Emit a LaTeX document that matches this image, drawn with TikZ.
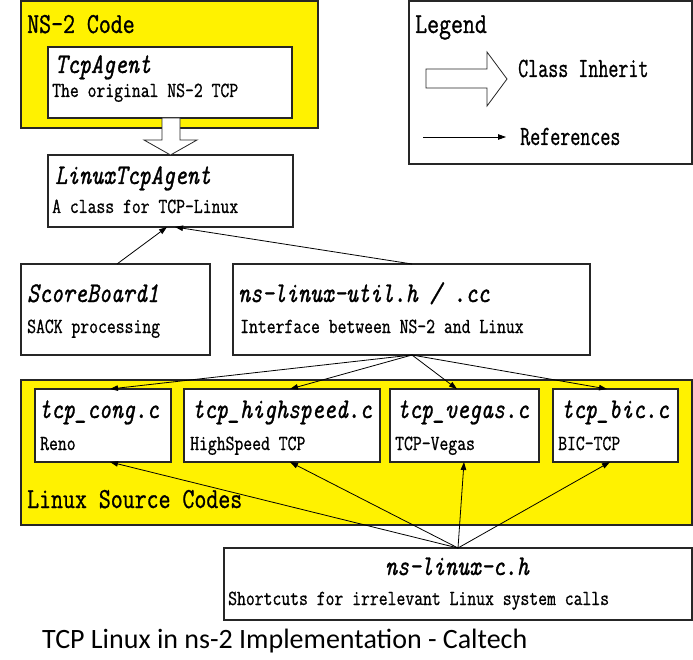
\documentclass[tikz,border=0pt]{standalone}
\usepackage{fontspec}
\setmainfont{Latin Modern Mono}[FakeStretch=0.8, FakeBold=0.9]
\newfontfamily\legfont{Latin Modern Mono}[FakeStretch=0.7, FakeBold=0.9]
\newfontfamily\capfont{Carlito}
\usetikzlibrary{arrows.meta}
\begin{document}
\begin{tikzpicture}[x=1pt,y=-1pt,
  box/.style={draw=black!85, line width=1.1pt, fill=white, anchor=north west, inner sep=0pt, outer sep=0pt},
  ybox/.style={box, fill=yellow},
  ttl/.style={anchor=base west, inner sep=0pt, font=\fontsize{28.5}{28.5}\selectfont\itshape},
  sub/.style={anchor=base west, inner sep=0pt, font=\fontsize{21.5}{21.5}\selectfont},
  big/.style={anchor=base west, inner sep=0pt, font=\fontsize{29}{29}\selectfont},
  leg/.style={anchor=base west, inner sep=0pt, font=\legfont\fontsize{27.8}{27.8}\selectfont},
  ref/.style={-{Triangle[length=8pt,width=5.5pt]}, line width=0.8pt, draw=black},
  hollow/.style={draw=black!85, line width=0.8pt, fill=white}
]
\useasboundingbox (0,0) rectangle (693,660);

% NS-2 code group
\node[ybox, minimum width=297pt, minimum height=127pt] (ns2) at (21,1) {};
\node[big] (ns2lbl) at (27,33) {NS-2 Code};
\node[box, minimum width=244pt, minimum height=71pt] (tcpagent) at (48,47) {};
\node[ttl] (tcpagentT) at (55,73) {TcpAgent};
\node[sub] (tcpagentS) at (52,97) {The original NS-2 TCP};

\node[box, minimum width=245pt, minimum height=72pt] (linux) at (48,155) {};
\node[ttl] (linuxT) at (55,184) {LinuxTcpAgent};
\node[sub] (linuxS) at (52,213) {A class for TCP-Linux};

% inheritance arrow
\draw[hollow] (162,118) -- (162,140) -- (144,140) -- (170.5,155) -- (197,140) -- (180,140) -- (180,118) -- cycle;

% legend
\node[box, minimum width=283pt, minimum height=163pt] (legend) at (409,1) {};
\node[big] (legendT) at (415,33) {Legend};
\draw[hollow] (426,69) -- (487,69) -- (487,52) -- (507,79) -- (487,106) -- (487,88) -- (426,88) -- cycle;
\node[leg] (legInh) at (518,77) {Class Inherit};
\node[leg] (legRef) at (520,145) {References};
\coordinate (refA) at (423,137);
\coordinate (refB) at (506,137);
\draw[ref] (refA) -- (refB);

% middle row
\node[box, minimum width=189pt, minimum height=91pt] (sb) at (21,264) {};
\node[ttl] (sbT) at (27,302) {ScoreBoard1};
\node[sub] (sbS) at (27,333) {SACK processing};

\node[box, minimum width=357pt, minimum height=91pt] (util) at (233,264) {};
\node[ttl] (utilT) at (238,302) {ns-linux-util.h / .cc};
\node[sub] (utilS) at (240,333) {Interface between NS-2 and Linux};

% Linux source codes group
\node[ybox, minimum width=671pt, minimum height=145pt] (lsrc) at (21,380) {};
\node[big] (lsrcT) at (27,508) {Linux Source Codes};

\node[box, minimum width=136pt, minimum height=73pt] (cong) at (35,389) {};
\node[ttl] (congT) at (39,418) {tcp\_cong.c};
\node[sub] (congS) at (40,450) {Reno};

\node[box, minimum width=196pt, minimum height=73pt] (hs) at (184,389) {};
\node[ttl] (hsT) at (192,418) {tcp\_highspeed.c};
\node[sub] (hsS) at (190,450) {HighSpeed TCP};

\node[box, minimum width=149pt, minimum height=73pt] (vegas) at (390,389) {};
\node[ttl] (vegasT) at (397,418) {tcp\_vegas.c};
\node[sub] (vegasS) at (395,450) {TCP-Vegas};

\node[box, minimum width=125pt, minimum height=73pt] (bic) at (553,389) {};
\node[ttl] (bicT) at (561,418) {tcp\_bic.c};
\node[sub] (bicS) at (558,450) {BIC-TCP};

% bottom box
\node[box, minimum width=468pt, minimum height=72pt] (nsc) at (224,548) {};
\node[ttl, anchor=base] (nscT) at (457,575) {ns-linux-c.h};
\node[sub] (nscS) at (228,605) {Shortcuts for irrelevant Linux system calls};

% caption
\node[anchor=base west, inner sep=0pt, font=\capfont\fontsize{28}{28}\selectfont] (caption) at (42,648) {TCP Linux in ns-2 Implementation - Caltech};

% references
\draw[ref] ([xshift=96pt]sb.north west) -- ([xshift=119pt]linux.south west);
\draw[ref] ([xshift=179pt]util.north west) -- ([xshift=127pt]linux.south west);

\draw[ref] ([xshift=179pt]util.south west) -- ([xshift=75pt]cong.north west);
\draw[ref] ([xshift=179pt]util.south west) -- ([xshift=106pt]hs.north west);
\draw[ref] ([xshift=179pt]util.south west) -- ([xshift=67pt]vegas.north west);
\draw[ref] ([xshift=179pt]util.south west) -- ([xshift=54pt]bic.north west);

\draw[ref] ([xshift=234pt]nsc.north west) -- ([xshift=75pt]cong.south west);
\draw[ref] ([xshift=234pt]nsc.north west) -- ([xshift=106pt]hs.south west);
\draw[ref] ([xshift=234pt]nsc.north west) -- ([xshift=74pt]vegas.south west);
\draw[ref] ([xshift=234pt]nsc.north west) -- ([xshift=57pt]bic.south west);
\end{tikzpicture}
\end{document}
